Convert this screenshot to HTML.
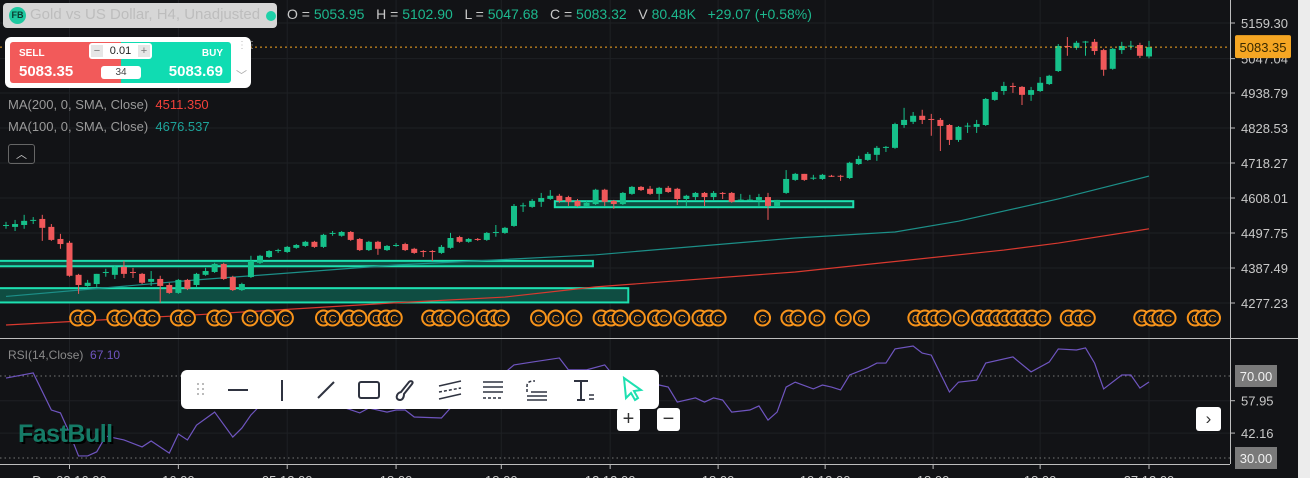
<!DOCTYPE html>
<html><head><meta charset="utf-8">
<style>
html,body{margin:0;padding:0;background:#121316;}
body{width:1310px;height:478px;overflow:hidden;position:relative;font-family:"Liberation Sans",sans-serif;}
svg{position:absolute;left:0;top:0;}
.abs{position:absolute;}
</style></head>
<body>
<svg id="chart" width="1310" height="478"></svg>

<div class="abs" style="left:3px;top:3px;width:274px;height:25px;background:#d6d6d6;border-radius:4px;">
  <div class="abs" style="left:6px;top:4px;width:17px;height:17px;border-radius:50%;background:#1ec8a0;color:#0b3b30;font-size:9px;font-weight:bold;line-height:17px;text-align:center;">FB</div>
  <div class="abs" style="left:27px;top:3px;font-size:15px;color:#bdbdbd;white-space:nowrap;">Gold vs US Dollar, H4, Unadjusted</div>
  <div class="abs" style="left:263px;top:8px;width:10px;height:10px;border-radius:50%;background:#1ed1a8;"></div>
</div>
<div class="abs" style="left:287px;top:6px;font-size:14px;color:#c8c8c8;white-space:nowrap;">O = <span style="color:#1db88e">5053.95</span>&nbsp;&nbsp; H = <span style="color:#1db88e">5102.90</span>&nbsp;&nbsp; L = <span style="color:#1db88e">5047.68</span>&nbsp;&nbsp; C = <span style="color:#1db88e">5083.32</span>&nbsp;&nbsp; V <span style="color:#1db88e">80.48K</span>&nbsp;&nbsp; <span style="color:#1db88e">+29.07 (+0.58%)</span></div>

<div class="abs" style="left:5px;top:37px;width:246px;height:51px;background:#fff;border-radius:6px;">
  <div class="abs" style="left:5px;top:5px;width:111px;height:41px;background:#f25a5a;border-radius:3px 0 0 3px;">
    <div class="abs" style="left:9px;top:6px;font-size:10px;font-weight:bold;color:#fff;">SELL</div>
    <div class="abs" style="left:9px;top:21px;font-size:15px;font-weight:bold;color:#fff;">5083.35</div>
  </div>
  <div class="abs" style="left:116px;top:5px;width:110px;height:41px;background:#10dcb2;border-radius:0 3px 3px 0;">
    <div class="abs" style="right:8px;top:6px;font-size:10px;font-weight:bold;color:#fff;">BUY</div>
    <div class="abs" style="right:8px;top:21px;font-size:15px;font-weight:bold;color:#fff;">5083.69</div>
  </div>
  <div class="abs" style="left:84px;top:6px;width:63px;height:16px;background:#fff;border-radius:3px;font-size:11px;color:#222;text-align:center;line-height:16px;">
    <span class="abs" style="left:2px;top:2px;width:12px;height:12px;background:#e6e6e6;line-height:12px;color:#777;">−</span>0.01<span class="abs" style="right:2px;top:2px;width:12px;height:12px;background:#e6e6e6;line-height:12px;color:#777;">+</span>
  </div>
  <div class="abs" style="left:96px;top:29px;width:40px;height:13px;background:#fff;border-radius:3px;font-size:10px;color:#444;text-align:center;line-height:13px;">34</div>
  <div class="abs" style="left:232px;top:6px;font-size:10px;color:#bbb;line-height:5px;">⋮⋮</div>
  <div class="abs" style="left:231px;top:30px;font-size:11px;color:#aaa;">﹀</div>
</div>

<div class="abs" style="left:8px;top:97px;font-size:13px;color:#9a9a9a;white-space:nowrap;">MA(200, 0, SMA, Close)&nbsp; <span style="color:#f2413a">4511.350</span></div>
<div class="abs" style="left:8px;top:119px;font-size:13px;color:#9a9a9a;white-space:nowrap;">MA(100, 0, SMA, Close)&nbsp; <span style="color:#1ea39a">4676.537</span></div>
<div class="abs" style="left:8px;top:144px;width:25px;height:18px;border:1px solid #666;border-radius:3px;color:#ccc;font-size:11px;text-align:center;line-height:20px;">︿</div>

<div class="abs" style="left:8px;top:348px;font-size:12px;color:#8a8a8a;white-space:nowrap;">RSI(14,Close)&nbsp; <span style="color:#6f55c0">67.10</span></div>
<div class="abs" style="left:18px;top:420px;font-size:25px;font-weight:bold;color:#157a66;text-shadow:2px 2px 0 #000;letter-spacing:-0.5px;">FastBull</div>

<div class="abs" style="left:181px;top:370px;width:478px;height:39px;background:#fff;border-radius:6px;">
<svg width="478" height="39" style="position:absolute;left:0;top:0;" stroke="#2f3340" stroke-width="2" fill="none">
  <g stroke="#bbb" stroke-width="2" stroke-dasharray="2 3"><line x1="17" y1="13" x2="17" y2="27"/><line x1="22" y1="13" x2="22" y2="27"/></g>
  <line x1="47" y1="20" x2="67" y2="20"/>
  <line x1="101" y1="10" x2="101" y2="31"/>
  <line x1="137" y1="28" x2="153" y2="12"/>
  <rect x="178" y="12" width="20" height="16" rx="2"/>
  <path d="M219 30c-5 0-4-7 1-8l8-10c2-2 5 0 3 2l-8 10c0 4-2 6-4 6z"/>
  <g stroke-width="1.5"><line x1="258" y1="16" x2="280" y2="11"/><line x1="258" y1="22" x2="280" y2="18" stroke-dasharray="3 2"/><line x1="258" y1="29" x2="280" y2="24"/></g>
  <g stroke-width="1.5"><line x1="302" y1="12" x2="322" y2="12"/><line x1="302" y1="17" x2="322" y2="17"/><line x1="302" y1="22" x2="322" y2="22"/><line x1="302" y1="28" x2="322" y2="28" stroke-dasharray="3 2"/></g>
  <g stroke-width="1.5"><path d="M346 22v-6c0-4 3-5 8-5" stroke-dasharray="3 2"/><line x1="346" y1="26" x2="366" y2="26"/><line x1="346" y1="30" x2="366" y2="30"/><line x1="350" y1="22" x2="366" y2="22"/></g>
  <g stroke-width="2"><line x1="393" y1="11" x2="407" y2="11"/><line x1="400" y1="11" x2="400" y2="30"/><line x1="396" y1="30" x2="404" y2="30"/><line x1="408" y1="25" x2="413" y2="25" stroke-width="1.5"/><line x1="408" y1="29" x2="413" y2="29" stroke-width="1.5"/></g>
  <path stroke="#1de0b0" d="M443 8l2 20 5-5 4 7 3-2-4-7 7-1z"/>
</svg></div>

<div class="abs" style="left:617px;top:408px;width:23px;height:23px;background:#fff;border-radius:3px;color:#333;font-size:20px;text-align:center;line-height:23px;">+</div>
<div class="abs" style="left:657px;top:408px;width:23px;height:23px;background:#fff;border-radius:3px;color:#333;font-size:20px;text-align:center;line-height:22px;">−</div>
<div class="abs" style="left:1196px;top:407px;width:25px;height:24px;background:#fff;border-radius:3px;color:#333;font-size:17px;text-align:center;line-height:24px;">›</div>
<div class="abs" style="left:1298px;top:0;width:12px;height:478px;background:#ececec;"></div>

<script>
const opens=[4520,4517,4523,4536,4542,4517,4479,4467,4366,4331,4337,4372,4366,4391,4375,4369,4344,4353,4334,4309,4350,4334,4366,4375,4400,4359,4318,4359,4404,4422,4444,4438,4451,4457,4470,4454,4498,4489,4501,4479,4444,4470,4444,4460,4463,4448,4441,4441,4435,4451,4485,4470,4479,4476,4501,4498,4520,4583,4580,4596,4605,4615,4611,4599,4583,4589,4634,4599,4589,4621,4643,4637,4621,4640,4637,4605,4611,4624,4611,4624,4624,4602,4602,4602,4611,4583,4624,4665,4684,4671,4668,4678,4678,4671,4715,4728,4744,4769,4766,4838,4848,4867,4857,4854,4838,4791,4835,4832,4838,4917,4945,4961,4958,4933,4945,4967,5008,5087,5081,5100,5100,5074,5015,5074,5087,5090,5053.95];
const closes=[4523,4526,4536,4539,4514,4476,4463,4363,4334,4341,4369,4375,4391,4369,4372,4341,4353,4331,4309,4350,4322,4369,4378,4400,4353,4318,4337,4410,4426,4441,4444,4454,4460,4470,4454,4492,4498,4501,4476,4444,4470,4448,4457,4460,4444,4435,4440,4440,4454,4482,4470,4479,4477,4498,4501,4514,4583,4585,4599,4608,4615,4599,4596,4583,4593,4634,4596,4589,4624,4643,4633,4621,4640,4627,4605,4615,4624,4611,4624,4622,4596,4603,4603,4611,4583,4602,4668,4684,4665,4672,4681,4677,4676,4719,4731,4747,4766,4769,4841,4854,4867,4854,4856,4835,4791,4832,4836,4841,4920,4942,4961,4959,4933,4948,4971,4993,5087,5085,5097,5101,5071,5012,5078,5087,5088,5056,5083.32];
const highs=[4533,4539,4555,4548,4555,4526,4495,4473,4369,4350,4369,4385,4397,4410,4388,4372,4378,4363,4341,4353,4353,4372,4388,4404,4404,4363,4341,4426,4429,4444,4448,4457,4463,4473,4473,4495,4504,4504,4504,4482,4473,4473,4460,4466,4467,4451,4444,4444,4460,4498,4489,4482,4482,4501,4523,4517,4589,4593,4605,4624,4633,4621,4615,4605,4599,4637,4637,4602,4627,4646,4646,4646,4643,4646,4640,4618,4627,4627,4630,4627,4627,4621,4618,4621,4624,4602,4696,4687,4684,4681,4684,4681,4681,4722,4741,4753,4772,4772,4845,4892,4879,4886,4873,4860,4841,4835,4845,4854,4923,4945,4974,4971,4961,4958,4989,4996,5093,5115,5103,5103,5109,5078,5081,5100,5103,5097,5102.90];
const lows=[4511,4504,4511,4526,4473,4473,4448,4360,4306,4328,4328,4360,4353,4356,4356,4337,4331,4278,4306,4306,4318,4328,4363,4372,4350,4315,4315,4356,4400,4419,4435,4435,4448,4454,4451,4451,4489,4486,4473,4441,4441,4429,4441,4454,4441,4432,4422,4410,4432,4448,4467,4467,4473,4473,4486,4495,4517,4564,4577,4580,4602,4593,4583,4580,4580,4586,4583,4574,4586,4618,4630,4618,4602,4624,4586,4583,4602,4583,4602,4605,4593,4599,4599,4583,4539,4583,4621,4662,4662,4665,4665,4674,4662,4668,4712,4725,4725,4753,4763,4829,4841,4841,4804,4756,4775,4785,4813,4813,4835,4914,4933,4939,4901,4914,4942,4964,5005,5056,5075,5056,5059,4993,5012,5062,5075,5049,5047.68];
const ma100Idx=[0,21,43,65,87,98,105,116,126];
const ma100Val=[4298,4350,4397,4429,4482,4501,4535,4605,4677];
const ma200Idx=[0,21,43,55,65,87,110,116,126];
const ma200Val=[4208,4240,4278,4296,4328,4375,4444,4466,4511];
const rsiIdx=[0,3,5,6,7,8,9,10,11,13,15,16,18,19,20,21,23,25,26,27,29,31,33,35,37,39,40,42,43,44,45,48,49,51,54,56,58,61,62,64,66,67,69,71,72,73,74,76,77,78,79,80,82,83,84,85,86,87,89,90,91,92,93,95,96,97,98,100,101,102,104,105,107,108,111,113,115,116,118,119,120,121,123,124,125,126];
const rsiVal=[69,71.5,53.4,52,42.2,31,31,33,40.7,38.8,35.4,38.3,32.4,41.7,38.8,46,52.4,40.2,44.6,51,60,66,62,58,55,52,54.4,52.4,53.4,53.4,50,49.5,54.4,60,68,75.4,76.8,78.8,73,73,75.4,70,64,66,65.6,64.6,57.3,59.3,57.3,59.3,58.3,52.4,53.4,55.4,48.5,52.4,64.6,67,63.7,65.6,64.6,63.2,70.5,74,76.3,76.3,83.2,84.6,81.2,80.2,62.2,67,68,76.3,79.3,72,76.8,83.2,82.7,83.7,76.3,63.7,70.5,70.5,64.1,67.1];
const eventIdx=[7.9,9,12,13,15,16.1,19,20,23,24,26.9,28.9,30.8,35,36,37.8,38.9,40.8,41.9,42.8,46.7,47.8,48.7,50.7,52.7,53.8,54.6,58.7,60.6,62.6,65.6,66.7,67.7,69.6,71.6,72.5,74.5,76.5,77.5,78.5,83.4,86.3,87.3,89.4,92.3,94.3,100.3,101.3,102.3,103.3,105.3,107.3,108.3,109.2,110.1,111.1,112.1,113.1,114.3,117.1,118.2,119.2,125.2,126.3,127.2,128.1,131.1,132,133];
const priceTicks=[5159.30,5047.04,4938.79,4828.53,4718.27,4608.01,4497.75,4387.49,4277.23];
const rsiTicks=[57.95,42.16];
const timeLabels=["D... 03 16:00","16:00","05 12:00","18:00","18:00","12 12:00","18:00","19 12:00","18:00","18:00","27 12:00"];
const timeIdx=[7,19,31,43,54.6,66.6,78.5,90.3,102.2,114,126];
const zoneA={i0:-1,i1:64.7,p0:4410,p1:4393};
const zoneB={i0:-1,i1:68.6,p0:4324,p1:4279};
const zoneC={i0:60.5,i1:93.4,p0:4598,p1:4579};
const lastPrice=5083.35;

const svg=document.getElementById('chart');
const NS='http://www.w3.org/2000/svg';
const N=opens.length;
const xS=i=>6+i*(1149-6)/(N-1);
const yP=p=>23+(5159.3-p)/3.1502;
const yR=v=>376+(70-v)*2.05;
function mk(tag,attrs,parent){const e=document.createElementNS(NS,tag);for(const k in attrs)e.setAttribute(k,attrs[k]);(parent||svg).appendChild(e);return e;}

mk('rect',{x:0,y:0,width:1310,height:478,fill:'#121316'});
const grid=mk('g',{});


priceTicks.forEach(p=>mk('line',{x1:0,x2:1230,y1:yP(p),y2:yP(p),stroke:'#1e2024'},grid));
rsiTicks.forEach(v=>mk('line',{x1:0,x2:1230,y1:yR(v),y2:yR(v),stroke:'#1e2024'},grid));
timeIdx.forEach(i=>mk('line',{x1:xS(i),x2:xS(i),y1:0,y2:464,stroke:'#1e2024'},grid));

[zoneA,zoneB,zoneC].forEach((z,k)=>{
  const r=mk('rect',{x:xS(z.i0),y:yP(z.p0),width:xS(z.i1)-xS(z.i0),height:yP(z.p1)-yP(z.p0),fill:'#0f4d42',stroke:'#1de0b0','stroke-width':2});
  
  
});

function line(idx,val,color,name){
  const pts=idx.map((i,k)=>xS(i)+','+yP(val[k])).join(' ');
  const pl=mk('polyline',{points:pts,fill:'none',stroke:color,'stroke-width':1.2});
  
  
}
line(ma100Idx,ma100Val,'#1c8f88','ma100-line');
line(ma200Idx,ma200Val,'#d9392f','ma200-line');

for(let i=0;i<N;i++){
  const up=closes[i]>=opens[i];
  const col=up?'#16c08a':'#f0585a';
  const g=mk('g',{});
  
  
  const x=xS(i);
  mk('line',{x1:x,x2:x,y1:yP(highs[i]),y2:yP(lows[i]),stroke:col,'stroke-width':1},g);
  const t=yP(Math.max(opens[i],closes[i])),b=yP(Math.min(opens[i],closes[i]));
  mk('rect',{x:x-3,y:t,width:6,height:Math.max(1,b-t),fill:col},g);
}

const lp=mk('line',{x1:0,x2:1230,y1:yP(lastPrice),y2:yP(lastPrice),stroke:'#f5a623','stroke-dasharray':'2 3'});



eventIdx.forEach(i=>{
  const g=mk('g',{});
  
  
  mk('circle',{cx:xS(i),cy:318,r:7.5,fill:'#121316',stroke:'#f7931a','stroke-width':2},g);
  const t=mk('text',{x:xS(i),y:322.5,'text-anchor':'middle','font-size':11,fill:'#f7931a','font-family':'Liberation Sans, sans-serif'},g);
  t.textContent='C';
});

mk('line',{x1:0,x2:1298,y1:338.5,y2:338.5,stroke:'#bdbdbd'});
mk('line',{x1:1230.5,x2:1230.5,y1:0,y2:464,stroke:'#bdbdbd'});
mk('line',{x1:0,x2:1230,y1:464.5,y2:464.5,stroke:'#bdbdbd'});

priceTicks.forEach(p=>{
  const y=yP(p);
  mk('line',{x1:1230,x2:1235,y1:y,y2:y,stroke:'#bdbdbd'});
  const t=mk('text',{x:1241,y:y+5,'font-size':13,fill:'#c8c8c8','font-family':'Liberation Sans, sans-serif'});
  
  
  t.textContent=p.toFixed(2);
});
const tag=mk('g',{});


mk('rect',{x:1235,y:yP(lastPrice)-12,width:56,height:23,rx:2,fill:'#f5a623'},tag);
const tt=mk('text',{x:1263,y:yP(lastPrice)+5,'text-anchor':'middle','font-size':13,fill:'#3a2a00','font-family':'Liberation Sans, sans-serif'},tag);
tt.textContent=lastPrice.toFixed(2);

[70,30].forEach(v=>mk('line',{x1:0,x2:1230,y1:yR(v),y2:yR(v),stroke:'#777','stroke-dasharray':'1.5 3'}));
const rp=mk('polyline',{points:rsiIdx.map((i,k)=>xS(i)+','+yR(rsiVal[k])).join(' '),fill:'none',stroke:'#6f55c0','stroke-width':1.2});


rsiTicks.forEach(v=>{
  mk('line',{x1:1230,x2:1235,y1:yR(v),y2:yR(v),stroke:'#bdbdbd'});
  const t=mk('text',{x:1241,y:yR(v)+5,'font-size':13,fill:'#c8c8c8','font-family':'Liberation Sans, sans-serif'});
  
  
  t.textContent=v.toFixed(2);
});
[70,30].forEach(v=>{
  const g=mk('g',{});
  
  
  mk('rect',{x:1235,y:yR(v)-11,width:42,height:22,fill:'#7a7a7a'},g);
  const t=mk('text',{x:1256,y:yR(v)+5,'text-anchor':'middle','font-size':13,fill:'#f0f0f0','font-family':'Liberation Sans, sans-serif'},g);
  t.textContent=v.toFixed(2);
});

timeIdx.forEach((i,k)=>{
  mk('line',{x1:xS(i),x2:xS(i),y1:464,y2:469,stroke:'#bdbdbd'});
  const t=mk('text',{x:xS(i),y:485,'text-anchor':'middle','font-size':13,fill:'#c8c8c8','font-family':'Liberation Sans, sans-serif'});
  
  
  t.textContent=timeLabels[k];
});
</script>
</body></html>
